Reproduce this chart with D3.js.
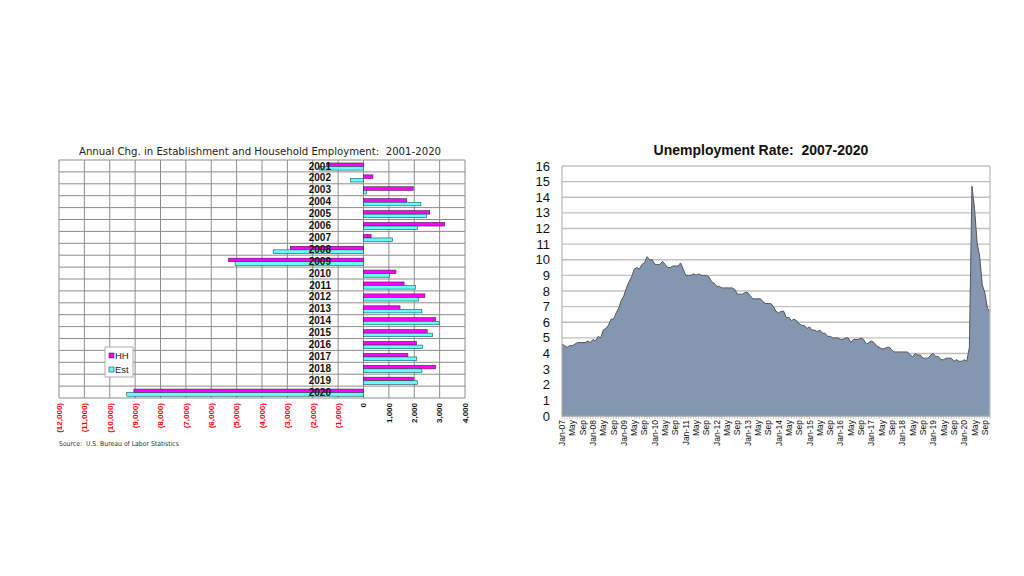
<!DOCTYPE html>
<html>
<head>
<meta charset="utf-8">
<script src="https://cdn.jsdelivr.net/npm/d3@7"></script>
<style>
  body { margin: 0; background: #fff; }
  svg { display: block; }
  text { white-space: pre; }
</style>
</head>
<body>
<svg id="chart" width="1024" height="576"></svg>
<script>
// ---- left chart data (thousands of jobs, Dec/Dec change) ----
var years = ["2001", "2002", "2003", "2004", "2005", "2006", "2007", "2008", "2009", "2010",
             "2011", "2012", "2013", "2014", "2015", "2016", "2017", "2018", "2019", "2020"];
var hhChange = [-1450, 370, 1960, 1700, 2610, 3200, 300, -2880, -5320, 1280,
                1600, 2420, 1440, 2840, 2510, 2090, 1750, 2840, 1970, -9050];
var estChange = [-1740, -520, 110, 2260, 2480, 2130, 1140, -3560, -5060, 1020,
                 2050, 2180, 2300, 2980, 2720, 2330, 2100, 2300, 2130, -9330];
var empTicks = d3.range(-12000, 4001, 1000);

// ---- right chart data (monthly unemployment rate, Jan-07 .. Nov-20) ----
var urStart = new Date(2007, 0, 1);
var unempRate = [
  4.6, 4.5, 4.4, 4.5, 4.5, 4.6, 4.7, 4.7, 4.7, 4.7, 4.8, 4.7,
  4.9, 4.8, 5.1, 5.0, 5.5, 5.6, 5.8, 6.2, 6.2, 6.6, 6.9, 7.4,
  7.7, 8.2, 8.6, 8.9, 9.4, 9.5, 9.4, 9.7, 9.8, 10.2, 10.0, 10.0,
  9.7, 9.7, 9.7, 9.9, 9.7, 9.5, 9.5, 9.6, 9.6, 9.6, 9.8, 9.4,
  9.0, 9.0, 9.0, 9.1, 9.0, 9.1, 9.0, 9.0, 9.0, 8.9, 8.6, 8.5,
  8.3, 8.3, 8.2, 8.2, 8.2, 8.2, 8.2, 8.1, 7.8, 7.8, 7.8, 7.9,
  7.9, 7.7, 7.5, 7.5, 7.5, 7.5, 7.3, 7.2, 7.2, 7.2, 7.0, 6.7,
  6.6, 6.7, 6.7, 6.3, 6.3, 6.1, 6.2, 6.1, 5.9, 5.8, 5.8, 5.6,
  5.7, 5.5, 5.5, 5.4, 5.5, 5.3, 5.3, 5.1, 5.1, 5.0, 5.0, 5.0,
  4.9, 4.9, 5.0, 5.0, 4.7, 4.9, 4.9, 4.9, 5.0, 4.9, 4.6, 4.7,
  4.8, 4.7, 4.5, 4.4, 4.3, 4.3, 4.4, 4.4, 4.2, 4.1, 4.1, 4.1,
  4.1, 4.1, 4.1, 3.9, 3.8, 4.0, 3.9, 3.9, 3.7, 3.7, 3.7, 3.9,
  4.0, 3.8, 3.8, 3.6, 3.6, 3.7, 3.7, 3.7, 3.5, 3.6, 3.5, 3.5,
  3.6, 3.5, 4.4, 14.7, 13.3, 11.1, 10.2, 8.4, 7.9, 6.9, 6.7
];
var rateTicks = d3.range(0, 17, 1);
var monthNames = ["Jan", "Feb", "Mar", "Apr", "May", "Jun", "Jul", "Aug", "Sep", "Oct", "Nov", "Dec"];

var svg = d3.select("#chart");

// ================= left: horizontal bar chart =================
var left = { x0: 59, x1: 465, y0: 160, y1: 398 };
var x = d3.scaleLinear().domain([-12000, 4000]).range([left.x0, left.x1]);
var yb = d3.scaleBand().domain(years).range([left.y0, left.y1]);
var bw = yb.bandwidth();

var lg = svg.append("g");

lg.append("text")
    .attr("x", 260).attr("y", 155)
    .attr("text-anchor", "middle")
    .style("font-family", "'DejaVu Sans Condensed', 'DejaVu Sans', sans-serif")
    .style("font-stretch", "condensed")
    .style("font-size", "11.3px")
    .style("fill", "#222")
    .text("Annual Chg. in Establishment and Household Employment:  2001-2020");

// grid
lg.append("g").selectAll("line.v")
    .data(empTicks).enter().append("line")
    .attr("x1", d => x(d)).attr("x2", d => x(d))
    .attr("y1", left.y0).attr("y2", left.y1)
    .style("stroke", "#8c8c8c").style("stroke-width", 1);
lg.append("g").selectAll("line.h")
    .data(years.concat(["end"])).enter().append("line")
    .attr("x1", left.x0).attr("x2", left.x1)
    .attr("y1", (d, i) => left.y0 + i * bw).attr("y2", (d, i) => left.y0 + i * bw)
    .style("stroke", "#8c8c8c").style("stroke-width", 1);

// bars
function barX(v) { return Math.min(x(0), x(v)); }
function barW(v) { return Math.abs(x(v) - x(0)); }
lg.append("g").selectAll("rect.hh")
    .data(hhChange).enter().append("rect")
    .attr("x", d => barX(d))
    .attr("width", d => barW(d))
    .attr("y", (d, i) => yb(years[i]) + bw * 0.25)
    .attr("height", bw * 0.3)
    .style("fill", "#ff00ff").style("stroke", "#4d1a4d").style("stroke-width", 0.6);
lg.append("g").selectAll("rect.est")
    .data(estChange).enter().append("rect")
    .attr("x", d => barX(d))
    .attr("width", d => barW(d))
    .attr("y", (d, i) => yb(years[i]) + bw * 0.55)
    .attr("height", bw * 0.3)
    .style("fill", "#66ffff").style("stroke", "#1a4d4d").style("stroke-width", 0.6);

// category labels
lg.append("g").selectAll("text.yr")
    .data(years).enter().append("text")
    .attr("x", 331)
    .attr("y", d => yb(d) + bw / 2 + 3.6)
    .attr("text-anchor", "end")
    .style("font-family", "'Liberation Sans', Arial, sans-serif")
    .style("font-weight", "bold")
    .style("font-size", "10px")
    .style("fill", "#111")
    .text(d => d);

// value axis labels (rotated)
var fmt = d3.format(",");
lg.append("g").selectAll("text.tick")
    .data(empTicks).enter().append("text")
    .attr("transform", d => "translate(" + x(d) + "," + (left.y1 + 5) + ") rotate(-90)")
    .attr("dy", "0.35em")
    .attr("text-anchor", "end")
    .style("font-family", "'Liberation Sans', Arial, sans-serif")
    .style("font-weight", "bold")
    .style("font-size", "8px")
    .style("fill", d => d < 0 ? "#ff0000" : "#111")
    .text(d => d < 0 ? "(" + fmt(-d) + ")" : fmt(d));

// legend
var leg = lg.append("g").attr("transform", "translate(105,347)");
leg.append("rect").attr("width", 28).attr("height", 30)
    .style("fill", "#fff").style("stroke", "#999").style("stroke-width", 0.8);
var legItems = [{ name: "HH", color: "#ff00ff" }, { name: "Est", color: "#66ffff" }];
legItems.forEach(function(it, i) {
    leg.append("rect").attr("x", 4).attr("y", 6 + i * 14).attr("width", 5).attr("height", 5)
        .style("fill", it.color).style("stroke", "#333").style("stroke-width", 0.6);
    leg.append("text").attr("x", 10).attr("y", 11.5 + i * 14)
        .style("font-family", "'Liberation Sans', Arial, sans-serif")
        .style("font-size", "9.5px").style("fill", "#222")
        .text(it.name);
});

lg.append("text")
    .attr("x", 59).attr("y", 446)
    .style("font-family", "'DejaVu Sans Condensed', 'DejaVu Sans', sans-serif")
    .style("font-stretch", "condensed")
    .style("font-size", "6.8px")
    .style("fill", "#333")
    .text("Source:  U.S. Bureau of Labor Statistics");

// ================= right: area chart =================
var right = { x0: 562, x1: 990, y0: 166, y1: 416 };
var xi = d3.scaleLinear().domain([0, unempRate.length - 1]).range([right.x0, right.x1]);
var yr = d3.scaleLinear().domain([0, 16]).range([right.y1, right.y0]);

var rg = svg.append("g");

rg.append("text")
    .attr("x", 761).attr("y", 155)
    .attr("text-anchor", "middle")
    .style("font-family", "'Liberation Sans', Arial, sans-serif")
    .style("font-weight", "bold")
    .style("font-size", "14px")
    .style("fill", "#111")
    .text("Unemployment Rate:  2007-2020");

rg.append("g").selectAll("line.grid")
    .data(rateTicks).enter().append("line")
    .attr("x1", right.x0).attr("x2", right.x1)
    .attr("y1", d => yr(d)).attr("y2", d => yr(d))
    .style("stroke", "#c0c0c0").style("stroke-width", 1.3);

var area = d3.area()
    .x((d, i) => xi(i))
    .y0(yr(0))
    .y1(d => yr(d));
var line = d3.line()
    .x((d, i) => xi(i))
    .y(d => yr(d));

rg.append("path").datum(unempRate)
    .attr("d", area)
    .style("fill", "#8497b0");
rg.append("path").datum(unempRate)
    .attr("d", line)
    .style("fill", "none").style("stroke", "#555").style("stroke-width", 1);

// frame lines
rg.append("line").attr("x1", right.x0).attr("x2", right.x0).attr("y1", right.y0).attr("y2", right.y1)
    .style("stroke", "#a6a6a6").style("stroke-width", 1);
rg.append("line").attr("x1", right.x1).attr("x2", right.x1).attr("y1", right.y0).attr("y2", right.y1)
    .style("stroke", "#c0c0c0").style("stroke-width", 1.3);
rg.append("line").attr("x1", right.x0).attr("x2", right.x1).attr("y1", right.y1).attr("y2", right.y1)
    .style("stroke", "#a6a6a6").style("stroke-width", 1);

// y ticks
rg.append("g").selectAll("text.yt")
    .data(rateTicks).enter().append("text")
    .attr("x", 550).attr("y", d => yr(d))
    .attr("dy", "0.35em")
    .attr("text-anchor", "end")
    .style("font-family", "'Liberation Sans', Arial, sans-serif")
    .style("font-size", "13px")
    .style("fill", "#111")
    .text(d => d);

// x month ticks
var months = d3.range(unempRate.length);
rg.append("g").selectAll("line.mt")
    .data(months).enter().append("line")
    .attr("x1", d => xi(d)).attr("x2", d => xi(d))
    .attr("y1", right.y1).attr("y2", right.y1 + 3)
    .style("stroke", "#a6a6a6").style("stroke-width", 0.6);

rg.append("g").selectAll("text.xt")
    .data(months.filter(d => d % 4 === 0)).enter().append("text")
    .attr("transform", d => "translate(" + xi(d) + "," + (right.y1 + 4) + ") rotate(-90)")
    .attr("dy", "0.35em")
    .attr("text-anchor", "end")
    .style("font-family", "'Liberation Sans', Arial, sans-serif")
    .style("font-size", "8.5px")
    .style("fill", "#111")
    .text(function(d) {
        var dt = d3.timeMonth.offset(urStart, d);
        var m = dt.getMonth();
        return m === 0 ? "Jan-" + d3.timeFormat("%y")(dt) : monthNames[m];
    });
</script>
</body>
</html>
